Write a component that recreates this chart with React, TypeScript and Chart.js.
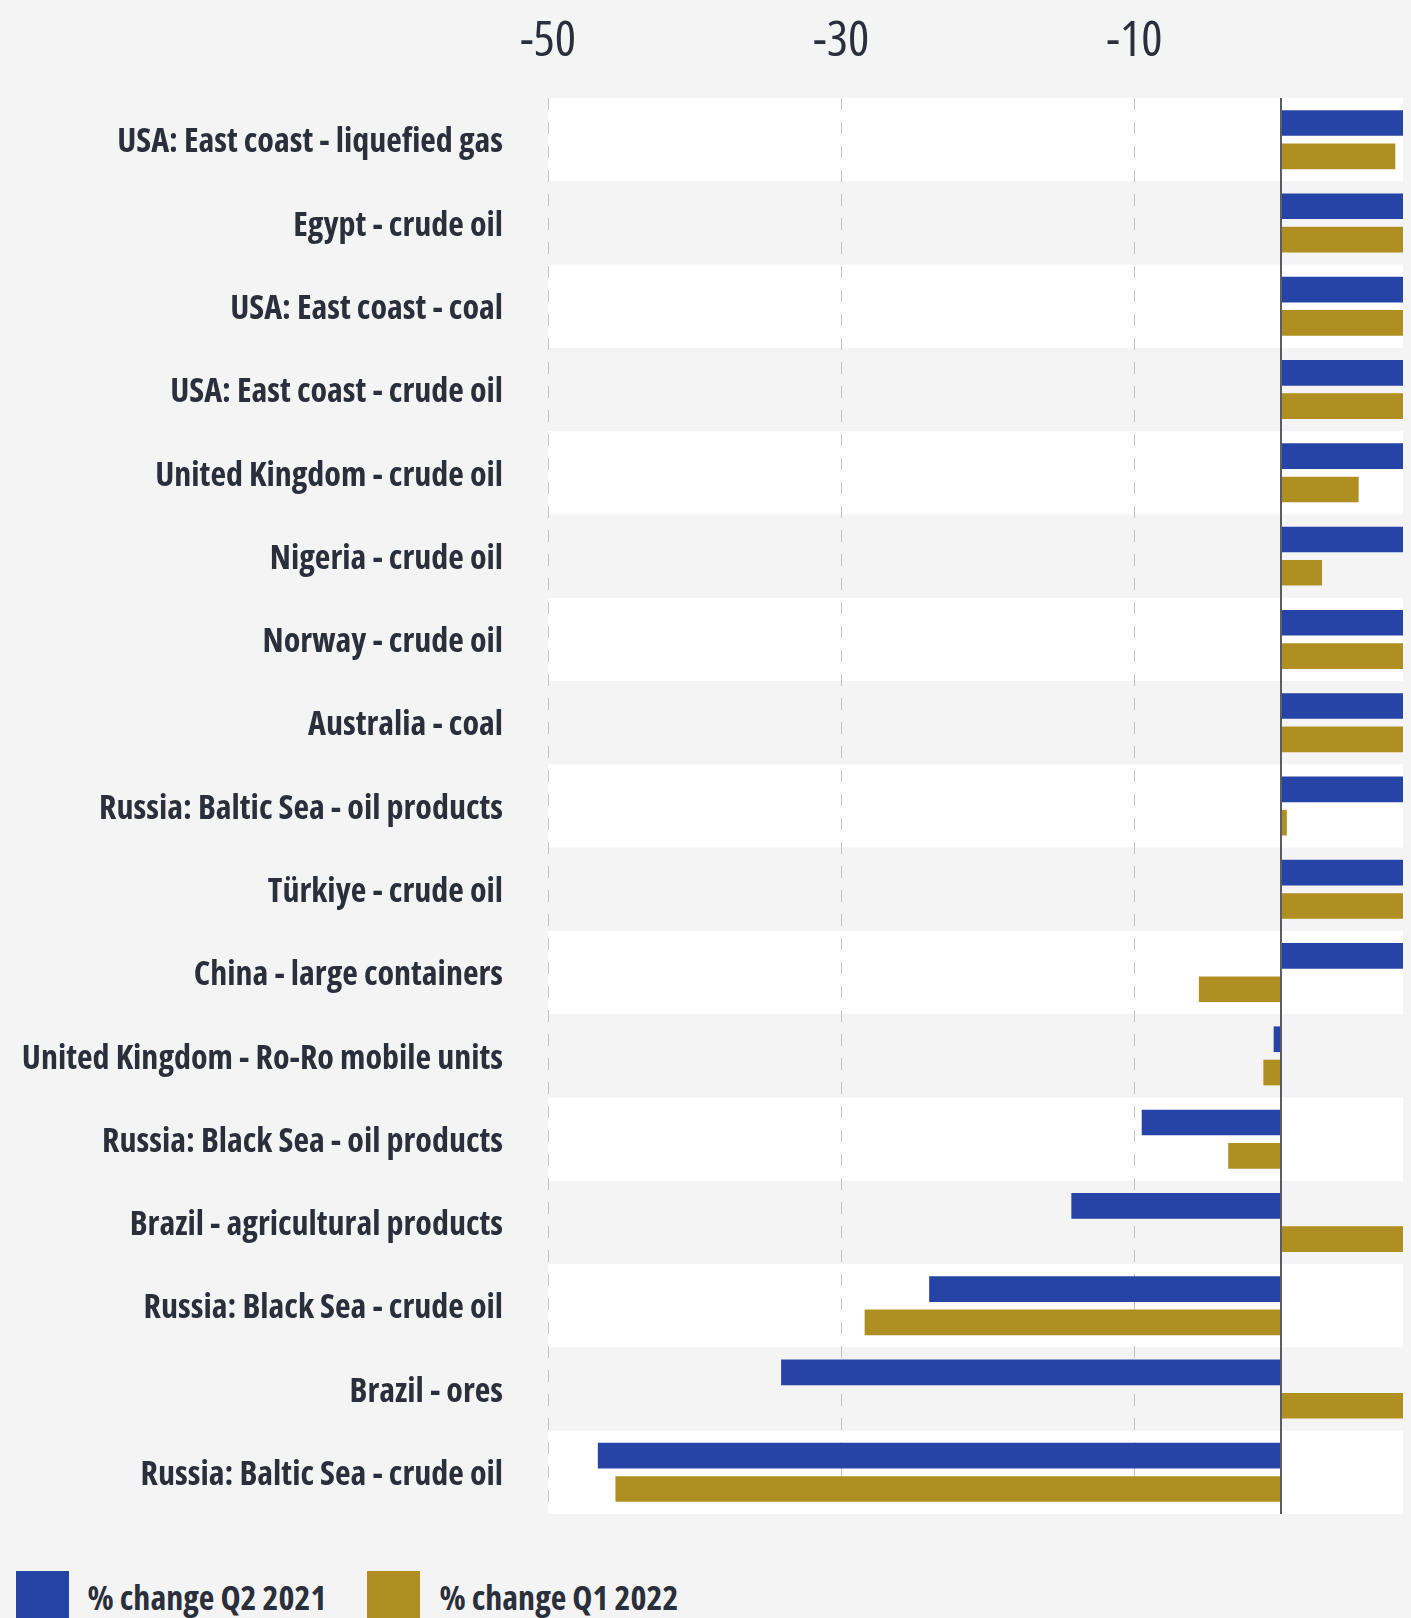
import React, { useEffect, useRef } from "react";
import { Chart, registerables } from "chart.js";

Chart.register(...registerables);

const categories: string[] = [
  "USA: East coast - liquefied gas",
  "Egypt - crude oil",
  "USA: East coast - coal",
  "USA: East coast - crude oil",
  "United Kingdom - crude oil",
  "Nigeria - crude oil",
  "Norway - crude oil",
  "Australia - coal",
  "Russia: Baltic Sea - oil products",
  "Türkiye - crude oil",
  "China - large containers",
  "United Kingdom - Ro-Ro mobile units",
  "Russia: Black Sea - oil products",
  "Brazil - agricultural products",
  "Russia: Black Sea - crude oil",
  "Brazil - ores",
  "Russia: Baltic Sea - crude oil",
];

// % change Q2 2021 (values above ~9 run past the visible area; estimated)
const changeQ2_2021: number[] = [
  60, 48, 42, 36, 32, 28, 25, 22, 19, 16, 12, -0.5, -9.5, -14.3, -24.0, -34.1, -46.6,
];

// % change Q1 2022 (values above ~9 run past the visible area; estimated)
const changeQ1_2022: number[] = [
  7.8, 20, 15, 12, 5.3, 2.8, 14, 18, 0.4, 25, -5.6, -1.2, -3.6, 20, -28.4, 10, -45.4,
];

const xTickValues: number[] = [-50, -30, -10];
const seriesLabels: string[] = ["% change Q2 2021", "% change Q1 2022"];
const seriesColors: string[] = ["#2644a6", "#b08f22"];

const FONT = "'Open Sans', 'Noto Sans', sans-serif";
const TEXT = "#2b2f3b";
const PAGE_BG = "#f4f4f4";

const rowBands = {
  id: "rowBands",
  beforeDraw(chart: any) {
    const { ctx, chartArea, scales } = chart;
    const y = scales.y;
    const n = categories.length;
    const h = (chartArea.bottom - chartArea.top) / n;
    ctx.save();
    for (let i = 0; i < n; i++) {
      ctx.fillStyle = i % 2 === 0 ? "#ffffff" : PAGE_BG;
      const c = y.getPixelForValue(i);
      ctx.fillRect(chartArea.left, c - h / 2, chartArea.right - chartArea.left, h);
    }
    ctx.restore();
  },
};

const zeroLine = {
  id: "zeroLine",
  afterDatasetsDraw(chart: any) {
    const { ctx, chartArea, scales } = chart;
    const x = Math.round(scales.x.getPixelForValue(0));
    ctx.save();
    ctx.strokeStyle = "#5b5d63";
    ctx.lineWidth = 2;
    ctx.beginPath();
    ctx.moveTo(x, chartArea.top);
    ctx.lineTo(x, chartArea.bottom);
    ctx.stroke();
    ctx.restore();
  },
};

export default function App() {
  const canvasRef = useRef<HTMLCanvasElement | null>(null);

  useEffect(() => {
    document.body.style.background = PAGE_BG;
    const canvas = canvasRef.current;
    if (!canvas) return;
    const chart = new Chart(canvas, {
      type: "bar",
      data: {
        labels: categories,
        datasets: [
          {
            label: seriesLabels[0],
            data: changeQ2_2021,
            backgroundColor: seriesColors[0],
            borderWidth: 0,
            categoryPercentage: 0.8,
            barPercentage: 0.77,
          },
          {
            label: seriesLabels[1],
            data: changeQ1_2022,
            backgroundColor: seriesColors[1],
            borderWidth: 0,
            categoryPercentage: 0.8,
            barPercentage: 0.77,
          },
        ],
      },
      options: {
        indexAxis: "y",
        responsive: false,
        animation: false,
        layout: { padding: 0 },
        plugins: {
          legend: { display: false },
          tooltip: { enabled: false },
        },
        scales: {
          x: {
            position: "top",
            min: -50,
            max: 8.87,
            afterBuildTicks: (scale: any) => {
              scale.ticks = xTickValues.map((v) => ({ value: v }));
            },
            afterFit: (scale: any) => {
              scale.height = 90;
              scale.paddingLeft = 0;
              scale.paddingRight = 0;
            },
            grid: {
              color: "#c2c2c2",
              lineWidth: 1,
              drawTicks: false,
            },
            border: { display: false, dash: [12, 12] },
            ticks: {
              color: TEXT,
              padding: 26,
              maxRotation: 0,
              font: { family: FONT, size: 50, weight: "400 condensed" },
            },
          },
          y: {
            afterFit: (scale: any) => {
              scale.width = 540;
              scale.paddingTop = 0;
              scale.paddingBottom = 0;
            },
            grid: { display: false, drawTicks: false },
            border: { display: false },
            ticks: {
              color: TEXT,
              padding: 45,
              labelOffset: 3,
              autoSkip: false,
              font: { family: FONT, size: 34, weight: "bold condensed" },
            },
          },
        },
      },
      plugins: [rowBands, zeroLine],
    } as any);
    return () => chart.destroy();
  }, []);

  const legendItem = (label: string, color: string, ml: number) => (
    <div style={{ display: "flex", alignItems: "center", marginLeft: ml }}>
      <div style={{ width: 53, height: 53, background: color, flex: "0 0 auto" }} />
      <span
        style={{
          marginLeft: 19,
          fontFamily: FONT,
          fontWeight: 700,
          fontStretch: "condensed",
          fontSize: 34,
          color: TEXT,
          lineHeight: "53px",
          whiteSpace: "nowrap",
        }}
      >
        {label}
      </span>
    </div>
  );

  return (
    <div style={{ width: 1403, background: PAGE_BG }}>
      <canvas ref={canvasRef} width={1403} height={1506} style={{ display: "block" }} />
      <div style={{ display: "flex", marginTop: 57 }}>
        {legendItem(seriesLabels[0], seriesColors[0], 7.5)}
        {legendItem(seriesLabels[1], seriesColors[1], 41)}
      </div>
    </div>
  );
}
